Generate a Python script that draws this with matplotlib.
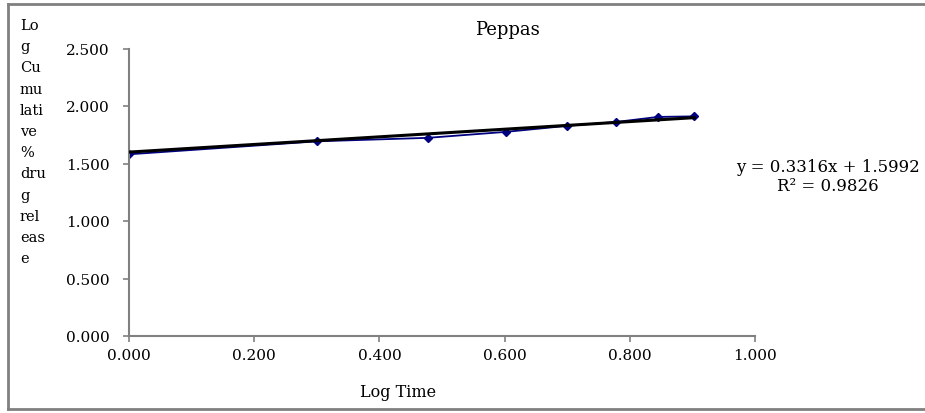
import matplotlib.pyplot as plt
from matplotlib.lines import Line2D

# Data
log_time = [0.000, 0.301, 0.477, 0.602, 0.699, 0.778, 0.845, 0.903]
log_release = [1.580, 1.693, 1.723, 1.775, 1.827, 1.861, 1.905, 1.910]

# Trendline shown on the chart
slope = 0.3316
intercept = 1.5992
r_squared = 0.9826

x_ticks = [0.0, 0.2, 0.4, 0.6, 0.8, 1.0]
y_ticks = [0.0, 0.5, 1.0, 1.5, 2.0, 2.5]
ylabel_lines = ["Lo", "g", "Cu", "mu", "lati", "ve", "%", "dru", "g", "rel", "eas", "e"]

plt.rcParams['font.family'] = 'DejaVu Serif'
W, H = 925, 414


def plot_peppas():
    fig = plt.figure(figsize=(W / 100, H / 100), dpi=100)
    ax = fig.add_axes([129 / W, 1 - 337 / H, 626 / W, 287.5 / H])

    # Data series and linear trendline
    ax.plot(log_time, log_release, color="#000080", linewidth=1.3,
            marker="D", markersize=4.5, zorder=2)
    x_fit = [log_time[0], log_time[-1]]
    y_fit = [slope * v + intercept for v in x_fit]
    ax.plot(x_fit, y_fit, color="black", linewidth=2.2, zorder=3)

    ax.set_xlim(0, 1.0)
    ax.set_ylim(0, 2.5)
    ax.set_xticks(x_ticks)
    ax.set_yticks(y_ticks)
    ax.set_xticklabels([f"{v:.3f}" for v in x_ticks], fontsize=11)
    ax.set_yticklabels([f"{v:.3f}" for v in y_ticks], fontsize=11)

    for side in ["top", "right"]:
        ax.spines[side].set_visible(False)
    for side in ["left", "bottom"]:
        ax.spines[side].set_color("#808080")
        ax.spines[side].set_linewidth(1.5)
    ax.tick_params(axis="both", direction="out", length=4, width=1.2, color="#808080")
    ax.tick_params(axis="y", pad=10)
    ax.tick_params(axis="x", pad=5)

    # Title, axis labels, equation
    fig.text(507 / W, 1 - 30 / H, "Peppas", ha="center", va="center", fontsize=13)
    fig.text(398 / W, 1 - 393 / H, "Log Time", ha="center", va="center", fontsize=11.5)
    for i, linha in enumerate(ylabel_lines):
        fig.text(20 / W, 1 - (30 + 21.2 * i) / H, linha, ha="left", va="baseline", fontsize=10.5)
    eq = f"y = {slope:.4f}x + {intercept:.4f}\nR\u00b2 = {r_squared:.4f}"
    fig.text(828 / W, 1 - 177 / H, eq, ha="center", va="center", fontsize=12, linespacing=1.1)

    # Chart border (right side falls outside the picture)
    borda = dict(color="#808080", linewidth=2, transform=fig.transFigure)
    fig.add_artist(Line2D([8 / W, 8 / W], [4 / H, 409 / H], **borda))
    fig.add_artist(Line2D([8 / W, 1.01], [409 / H, 409 / H], **borda))
    fig.add_artist(Line2D([8 / W, 1.01], [4 / H, 4 / H], **borda))

    fig.savefig("out.png", dpi=100)


plot_peppas()
